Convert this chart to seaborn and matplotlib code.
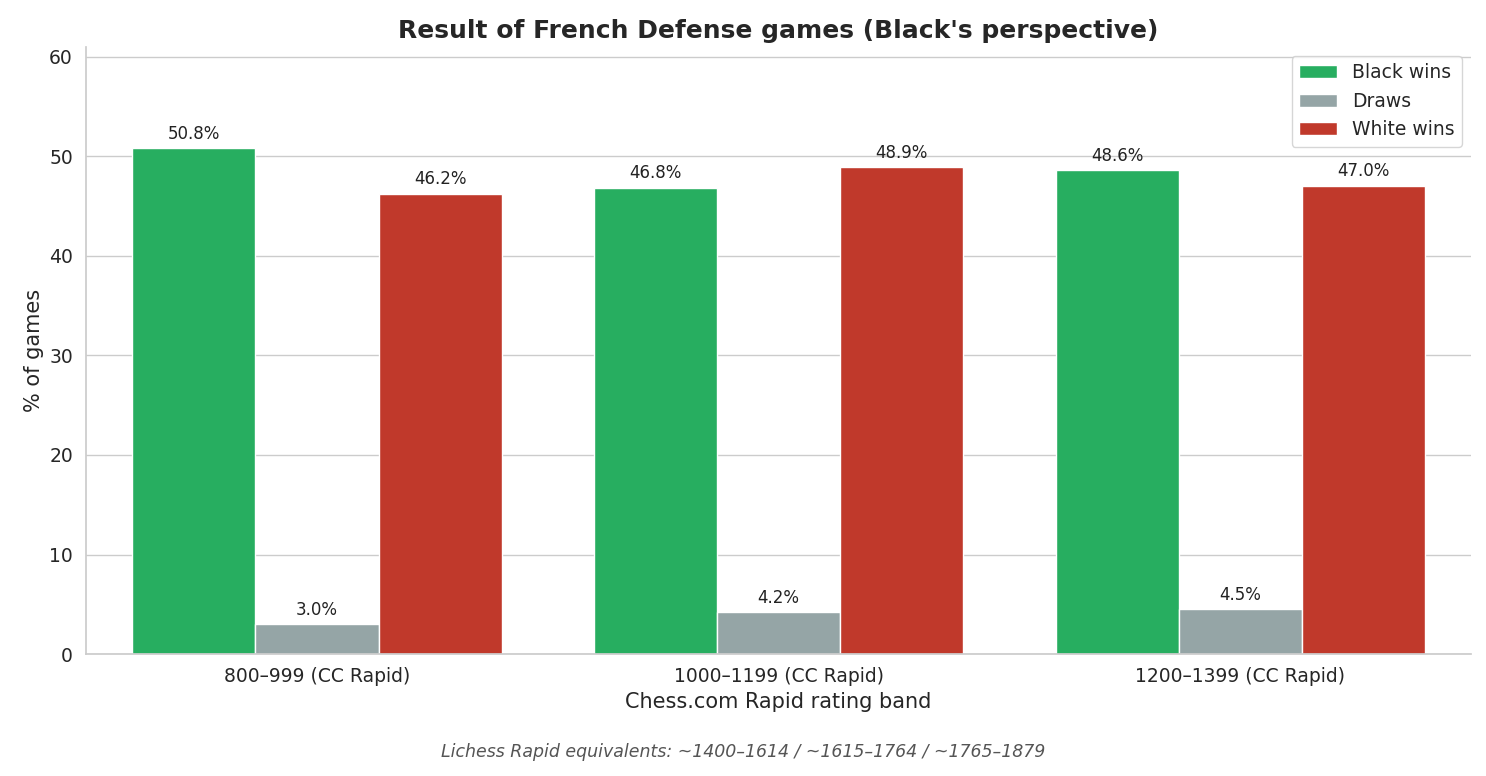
# French Defense results by rating band, Black's perspective
import pandas as pd
import matplotlib.pyplot as plt
import seaborn as sns

bands = ['800–999 (CC Rapid)', '1000–1199 (CC Rapid)', '1200–1399 (CC Rapid)']
outcomes = ['Black wins', 'Draws', 'White wins']
black_wins = [50.8, 46.8, 48.6]
draws = [3.0, 4.2, 4.5]
white_wins = [46.2, 48.9, 47.0]

colors = ['#27ae60', '#95a5a6', '#c0392b']

rows = []
for series, name in zip([black_wins, draws, white_wins], outcomes):
    for band, val in zip(bands, series):
        rows.append({'band': band, 'outcome': name, 'pct': val})
df = pd.DataFrame(rows)

sns.set_theme(style='whitegrid')
fig, ax = plt.subplots(figsize=(14.86, 7.76), dpi=100)

sns.barplot(data=df, x='band', y='pct', hue='outcome', hue_order=outcomes,
            palette=colors, saturation=1, edgecolor='white', linewidth=1, ax=ax)

for c in ax.containers:
    ax.bar_label(c, fmt='%.1f%%', padding=4, fontsize=12, color='#222222')

ax.set_ylim(0, 61)
ax.tick_params(labelsize=13.5)
ax.set_xlabel('Chess.com Rapid rating band', fontsize=15)
ax.set_ylabel('% of games', fontsize=15)
ax.set_title("Result of French Defense games (Black's perspective)",
             fontsize=18, fontweight='bold')
ax.legend(title=None, fontsize=13.5, loc='upper right')
sns.despine(ax=ax)
for s in ['left', 'bottom']:
    ax.spines[s].set_color('#cccccc')

fig.text(0.5, 0.025, 'Lichess Rapid equivalents: ~1400–1614 / ~1615–1764 / ~1765–1879',
         ha='center', fontsize=12.5, style='italic', color='#555555')

fig.subplots_adjust(left=0.058, right=0.99, top=0.94, bottom=0.157)
fig.savefig('out.png')
